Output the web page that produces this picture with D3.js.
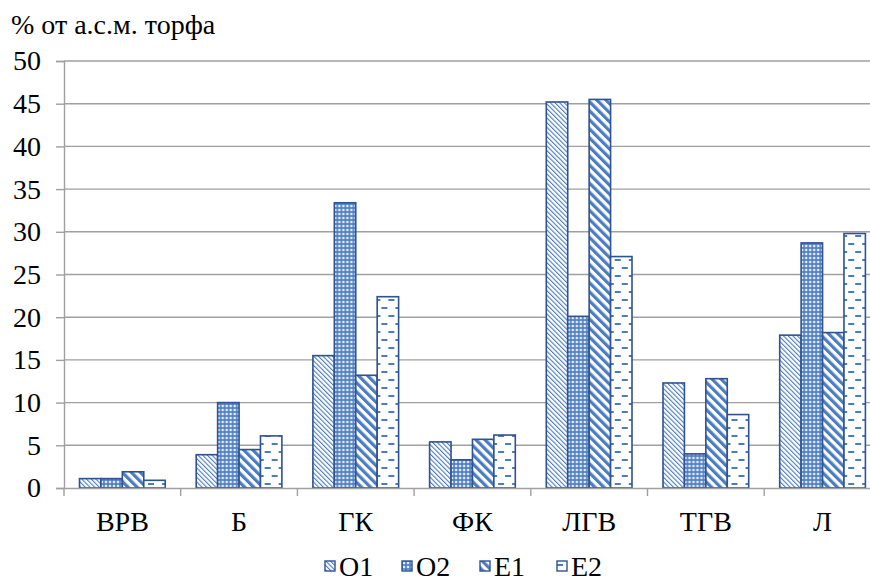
<!DOCTYPE html>
<html>
<head>
<meta charset="utf-8">
<script src="https://cdn.jsdelivr.net/npm/d3@7"></script>
</head>
<body style="margin:0">
<svg id="grafica"></svg>
<script>
// Состав торфа по группам, % от а.с.м.
const categories = ["ВРВ", "Б", "ГК", "ФК", "ЛГВ", "ТГВ", "Л"];
const series = ["O1", "O2", "E1", "E2"];
const o1 = [1.1, 3.9, 15.5, 5.4, 45.2, 12.3, 17.9];
const o2 = [1.1, 10.0, 33.4, 3.3, 20.1, 4.0, 28.7];
const e1 = [1.9, 4.5, 13.2, 5.7, 45.5, 12.8, 18.2];
const e2 = [0.9, 6.1, 22.4, 6.2, 27.1, 8.6, 29.8];
const yTicks = [0, 5, 10, 15, 20, 25, 30, 35, 40, 45, 50];

const svg_w = 870;
const svg_h = 581;
const margin = {l: 64, t: 61, b: 93};
const band = 116.7; // ширина одной категории (график обрезан справа)

const font = "Liberation Serif";
const fsize = 28;
const blue = "#4A7CC0";
const edge = "#2F5290";

let svg = d3.select("#grafica")
  .attr("width", svg_w)
  .attr("height", svg_h);

// штриховки
let defs = svg.append("defs");

let p1 = defs.append("pattern").attr("id", "p_O1")
  .attr("patternUnits", "userSpaceOnUse")
  .attr("width", 3.3).attr("height", 3.3)
  .attr("patternTransform", "rotate(-45)");
p1.append("rect").attr("width", 3.3).attr("height", 3.3).attr("fill", "#fff");
p1.append("rect").attr("width", 1.1).attr("height", 3.3).attr("fill", blue);

let p2 = defs.append("pattern").attr("id", "p_O2")
  .attr("patternUnits", "userSpaceOnUse")
  .attr("width", 4).attr("height", 4);
p2.append("rect").attr("width", 4).attr("height", 4).attr("fill", blue);
p2.append("rect").attr("x", 0.8).attr("y", 0.8).attr("width", 2.4).attr("height", 2.4).attr("fill", "#e4ecf7");

let p3 = defs.append("pattern").attr("id", "p_E1")
  .attr("patternUnits", "userSpaceOnUse")
  .attr("width", 6.4).attr("height", 6.4)
  .attr("patternTransform", "rotate(-45)");
p3.append("rect").attr("width", 6.4).attr("height", 6.4).attr("fill", "#fff");
p3.append("rect").attr("width", 3.2).attr("height", 6.4).attr("fill", blue);

let p4 = defs.append("pattern").attr("id", "p_E2")
  .attr("patternUnits", "userSpaceOnUse")
  .attr("width", 14).attr("height", 16);
p4.append("rect").attr("width", 14).attr("height", 16).attr("fill", "#fff");
p4.append("rect").attr("x", 0).attr("y", 3).attr("width", 6).attr("height", 2).attr("fill", blue);
p4.append("rect").attr("x", 7).attr("y", 11).attr("width", 6).attr("height", 2).attr("fill", blue);

const fills = {O1: "url(#p_O1)", O2: "url(#p_O2)", E1: "url(#p_E1)", E2: "url(#p_E2)"};

let data = categories.map((c, i) => ({
  label: c,
  values: [
    {key: "O1", v: o1[i]},
    {key: "O2", v: o2[i]},
    {key: "E1", v: e1[i]},
    {key: "E2", v: e2[i]}
  ]
}));

let x_scale = d3.scaleBand()
  .domain(categories)
  .range([margin.l, margin.l + band * categories.length]);

let x_inner = d3.scaleBand()
  .domain(series)
  .range([15.5, band - 15.5]);

let y_scale = d3.scaleLinear()
  .domain([0, 50])
  .range([svg_h - margin.b, margin.t]);

// сетка
svg.append("g")
  .selectAll("line")
  .data(yTicks.filter(d => d > 0))
  .enter().append("line")
  .attr("x1", margin.l).attr("x2", svg_w)
  .attr("y1", d => y_scale(d)).attr("y2", d => y_scale(d))
  .attr("stroke", "#a0a0a0").attr("stroke-width", 1.4);

// ось Y
let yAxis = svg.append("g")
  .attr("transform", `translate(${margin.l},0)`)
  .call(d3.axisLeft(y_scale).tickValues(yTicks).tickSize(8).tickPadding(15))
  .attr("font-family", null).attr("font-size", null);
yAxis.select(".domain").attr("stroke", "#a0a0a0").attr("stroke-width", 1.4);
yAxis.selectAll(".tick line").attr("stroke", "#a0a0a0").attr("stroke-width", 1.4);
yAxis.selectAll("text")
  .attr("fill", "#000")
  .attr("font-family", font)
  .attr("font-size", fsize);

// столбцы
svg.append("g")
  .selectAll("g")
  .data(data)
  .enter().append("g")
  .attr("transform", d => `translate(${x_scale(d.label)},0)`)
  .selectAll("rect")
  .data(d => d.values)
  .enter().append("rect")
  .attr("x", d => x_inner(d.key))
  .attr("y", d => y_scale(d.v))
  .attr("width", x_inner.bandwidth())
  .attr("height", d => y_scale(0) - y_scale(d.v))
  .attr("fill", d => fills[d.key])
  .attr("stroke", edge)
  .attr("stroke-width", 1.6);

// ось X
let xAxis = svg.append("g")
  .attr("transform", `translate(0,${y_scale(0)})`)
  .call(d3.axisBottom(x_scale).tickSize(0).tickPadding(23))
  .attr("font-family", null).attr("font-size", null);
xAxis.select(".domain").attr("stroke", "#a0a0a0").attr("stroke-width", 1.4);
xAxis.selectAll("text")
  .attr("fill", "#000")
  .attr("font-family", font)
  .attr("font-size", fsize);

svg.append("g")
  .selectAll("line")
  .data(categories.map((c, i) => i).concat([categories.length]))
  .enter().append("line")
  .attr("x1", i => margin.l + band * i).attr("x2", i => margin.l + band * i)
  .attr("y1", y_scale(0)).attr("y2", y_scale(0) + 8)
  .attr("stroke", "#a0a0a0").attr("stroke-width", 1.4);

// подпись оси
svg.append("text")
  .attr("x", 11).attr("y", 34)
  .attr("font-family", font)
  .attr("font-size", fsize)
  .text("% от а.с.м. торфа");

// легенда
const legendX = [325, 402, 480, 557];
let legend = svg.append("g")
  .selectAll("g")
  .data(series)
  .enter().append("g")
  .attr("transform", (d, i) => `translate(${legendX[i]},561)`);
legend.append("rect")
  .attr("x", 0).attr("y", 0)
  .attr("width", 10).attr("height", 10)
  .attr("fill", d => fills[d])
  .attr("stroke", edge).attr("stroke-width", 1.4);
legend.append("text")
  .attr("x", 14).attr("y", 15)
  .attr("font-family", font)
  .attr("font-size", fsize)
  .text(d => d);
</script>
</body>
</html>
